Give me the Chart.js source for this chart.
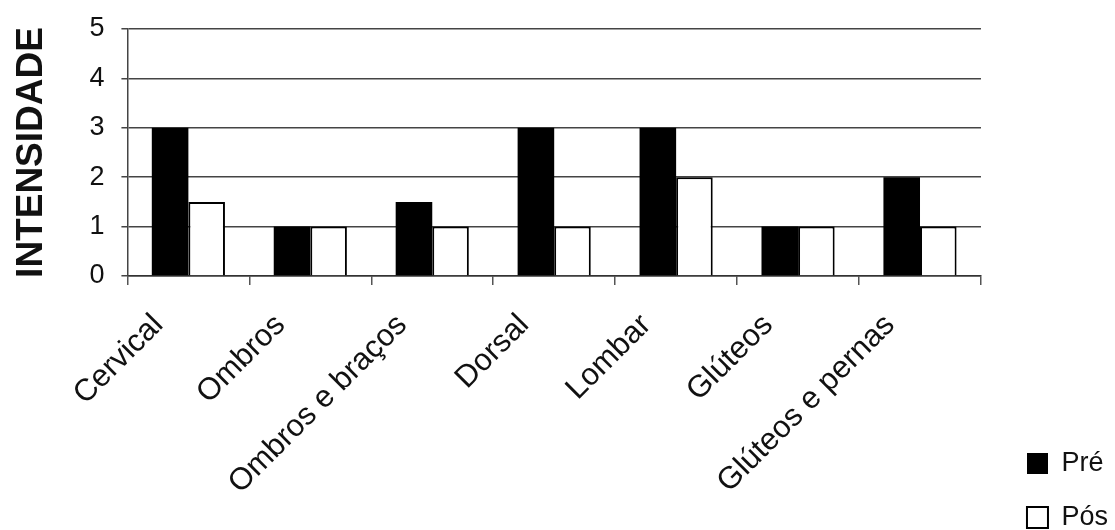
<!DOCTYPE html>
<html>
<head>
<meta charset="utf-8">
<script src="https://cdn.jsdelivr.net/npm/chart.js@4.4.1/dist/chart.umd.min.js"></script>
<style>
  html, body { margin: 0; padding: 0; background: #fff; }
  #wrap { width: 1115px; height: 530px; position: relative; }
</style>
</head>
<body>
<div id="wrap"><canvas id="canvas"></canvas></div>
<script>
// regiões do corpo avaliadas
const regioes = ["Cervical", "Ombros", "Ombros e braços", "Dorsal", "Lombar", "Glúteos", "Glúteos e pernas"];
// intensidade da dor antes e depois
const pre = [3, 1, 1.5, 3, 3, 1, 2];
const pos = [1.5, 1, 1, 1, 2, 1, 1];
const yTicks = [0, 1, 2, 3, 4, 5];

const FONT = 'Arial, "Liberation Sans", sans-serif';
const INK = '#111';

const ctx = document.getElementById('canvas').getContext('2d');
const chart = new Chart(ctx, {
  type: 'bar',
  data: {
    labels: regioes,
    datasets: [
      {
        label: 'Pré',
        data: pre,
        backgroundColor: '#000',
        borderColor: '#000',
        borderWidth: 0,
        categoryPercentage: 0.6,
        barPercentage: 1.0
      },
      {
        label: 'Pós',
        data: pos,
        backgroundColor: '#fff',
        borderColor: '#000',
        borderWidth: 2,
        categoryPercentage: 0.6,
        barPercentage: 1.0
      }
    ]
  },
  options: {
    responsive: true,
    maintainAspectRatio: false,
    animation: false,
    layout: { padding: { top: 29, left: 0, right: -3, bottom: -28 } },
    plugins: {
      tooltip: { enabled: false },
      legend: {
        position: 'right',
        align: 'end',
        labels: {
          boxWidth: 21,
          boxHeight: 21,
          padding: 27,
          color: INK,
          font: { family: FONT, size: 27 }
        }
      }
    },
    scales: {
      x: {
        grid: { display: true, drawOnChartArea: false, offset: true, tickLength: 9, color: '#555', lineWidth: 1.5 },
        border: { display: true, color: '#333', width: 1.5 },
        ticks: {
          autoSkip: false,
          minRotation: 45,
          maxRotation: 45,
          labelOffset: -30,
          padding: 22,
          color: INK,
          font: { family: FONT, size: 31 }
        },
        afterFit: (s) => { s.height = 282; }
      },
      y: {
        min: 0,
        max: 5,
        afterBuildTicks: (s) => { s.ticks = yTicks.map(v => ({ value: v })); },
        // o rótulo do topo não precisa de folga extra acima da área do gráfico
        afterFit: (s) => { s.paddingTop = 0; },
        grid: { color: '#444', lineWidth: 1.5, tickLength: 6 },
        border: { display: true, color: '#444', width: 1.5 },
        ticks: {
          padding: 17,
          color: INK,
          font: { family: FONT, size: 27 }
        },
        title: {
          display: true,
          text: 'INTENSIDADE',
          color: INK,
          padding: { top: 10, bottom: 18 },
          font: { family: FONT, size: 37, weight: 'bold' }
        }
      },
      yRight: {
        position: 'right',
        display: true,
        grid: { display: false },
        border: { display: false },
        ticks: { display: false },
        afterFit: (s) => { s.width = 19; }
      }
    }
  }
});
</script>
</body>
</html>
